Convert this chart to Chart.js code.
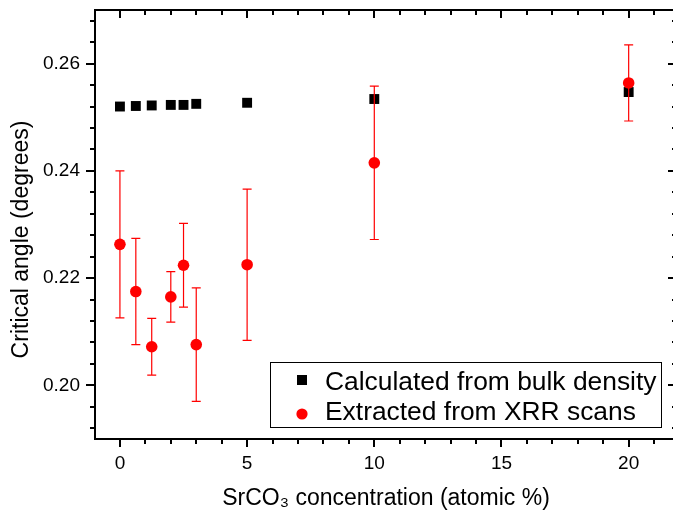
<!DOCTYPE html>
<html>
<head>
<meta charset="utf-8">
<script src="https://cdn.jsdelivr.net/npm/chart.js@4.4.1/dist/chart.umd.min.js"></script>
<style>
html,body{margin:0;padding:0;overflow:hidden;background:#fff}
#wrap{position:relative;width:690px;height:513px}
</style>
</head>
<body>
<div id="wrap"><canvas id="c" width="690" height="513" style="width:690px;height:513px"></canvas></div>
<script>
// ---- data ----
const concentrations = [0, 0.625, 1.25, 2, 2.5, 3, 5, 10, 20];
const bulkAngle      = [0.2520, 0.2521, 0.2522, 0.2523, 0.2523, 0.2525, 0.2527, 0.2534, 0.2547];
const xrrAngle       = [0.2263, 0.2175, 0.2072, 0.2165, 0.2224, 0.2076, 0.2225, 0.2415, 0.2564];
const xrrError       = [0.0137, 0.0099, 0.0053, 0.0047, 0.0078, 0.0106, 0.0141, 0.0143, 0.0071];
const xTickLabels    = [0, 5, 10, 15, 20];
const yTickLabels    = [0.20, 0.22, 0.24, 0.26];
const seriesLabels   = ['Calculated from bulk density', 'Extracted from XRR scans'];
const xTitle = 'SrCO\u2083 concentration (atomic %)';
const yTitle = 'Critical angle (degrees)';

const FONT = '"Liberation Sans", Arial, sans-serif';

const framePlugin = {
  id: 'frameTicks',
  beforeDatasetsDraw(chart) {
    const {ctx, chartArea: a, scales: {x, y}} = chart;
    ctx.save();
    ctx.strokeStyle = '#000';
    ctx.lineWidth = 2;
    ctx.strokeRect(a.left, a.top, a.right - a.left, a.bottom - a.top);
    ctx.beginPath();
    // x ticks: minor every 1, major at labels
    for (let v = Math.ceil(x.min); v <= Math.floor(x.max); v++) {
      if (v <= x.min || v >= x.max) continue;
      const px = Math.round(x.getPixelForValue(v));
      const major = xTickLabels.includes(v);
      const len = major ? 8 : 5;
      ctx.moveTo(px, a.bottom); ctx.lineTo(px, a.bottom + len);
      ctx.moveTo(px, a.top); ctx.lineTo(px, a.top + len);
    }
    // y ticks: minor every 0.004
    for (let i = 0; i < 100; i++) {
      const v = Math.round((0.192 + i * 0.004) * 1000) / 1000;
      if (v >= y.max) break;
      const py = Math.round(y.getPixelForValue(v));
      const major = yTickLabels.some(t => Math.abs(t - v) < 1e-6);
      const len = major ? 9 : 5;
      ctx.moveTo(a.left - len, py); ctx.lineTo(a.left, py);
      ctx.moveTo(a.right - len, py); ctx.lineTo(a.right, py);
    }
    ctx.stroke();
    ctx.restore();
  }
};

const errorBarPlugin = {
  id: 'errorBars',
  beforeDatasetDraw(chart, args) {
    if (args.index !== 1) return;
    const {ctx, scales: {x, y}} = chart;
    ctx.save();
    ctx.strokeStyle = '#ff0000';
    ctx.lineWidth = 1.2;
    ctx.beginPath();
    concentrations.forEach((c, i) => {
      const px = x.getPixelForValue(c);
      const pt = y.getPixelForValue(xrrAngle[i] + xrrError[i]);
      const pb = y.getPixelForValue(xrrAngle[i] - xrrError[i]);
      ctx.moveTo(px, pt); ctx.lineTo(px, pb);
      ctx.moveTo(px - 4.5, pt); ctx.lineTo(px + 4.5, pt);
      ctx.moveTo(px - 4.5, pb); ctx.lineTo(px + 4.5, pb);
    });
    ctx.stroke();
    ctx.restore();
  }
};

const yTitlePlugin = {
  id: 'yTitle',
  afterDraw(chart) {
    const ctx = chart.ctx;
    ctx.save();
    ctx.translate(21.8, 239.5);
    ctx.rotate(-Math.PI / 2);
    ctx.fillStyle = '#000';
    ctx.font = '23px ' + FONT;
    ctx.textAlign = 'center';
    ctx.textBaseline = 'middle';
    ctx.fillText(yTitle, 0, 0);
    ctx.restore();
  }
};

const legendPlugin = {
  id: 'legendBox',
  afterDraw(chart) {
    const ctx = chart.ctx;
    const ds = chart.data.datasets;
    ctx.save();
    ctx.fillStyle = '#fff';
    ctx.fillRect(270, 362, 391, 65);
    ctx.strokeStyle = '#000';
    ctx.lineWidth = 1;
    ctx.strokeRect(270.5, 362.5, 391, 65);
    // markers
    ctx.fillStyle = ds[0].backgroundColor;
    ctx.fillRect(297, 375, 10, 10);
    ctx.fillStyle = ds[1].backgroundColor;
    ctx.beginPath(); ctx.arc(302, 414, 5.6, 0, Math.PI * 2); ctx.fill();
    ctx.fillStyle = '#000';
    ctx.font = '26.4px ' + FONT;
    ctx.textBaseline = 'alphabetic';
    ctx.textAlign = 'left';
    ctx.fillText(ds[0].label, 325, 390);
    ctx.fillText(ds[1].label, 325, 420);
    ctx.restore();
  }
};

new Chart(document.getElementById('c'), {
  type: 'scatter',
  data: {
    datasets: [
      {
        label: seriesLabels[0],
        data: concentrations.map((c, i) => ({x: c, y: bulkAngle[i]})),
        pointStyle: 'rect',
        pointRadius: 7,
        borderWidth: 0,
        backgroundColor: '#000000',
        borderColor: '#000000',
        order: 2
      },
      {
        label: seriesLabels[1],
        data: concentrations.map((c, i) => ({x: c, y: xrrAngle[i]})),
        pointStyle: 'circle',
        pointRadius: 5.8,
        borderWidth: 0,
        backgroundColor: '#ff0000',
        borderColor: '#ff0000',
        order: 1
      }
    ]
  },
  options: {
    responsive: false,
    devicePixelRatio: 1,
    animation: false,
    layout: {padding: {left: 0, top: 10, right: 13, bottom: 0}},
    plugins: {legend: {display: false}, tooltip: {enabled: false}},
    scales: {
      x: {
        type: 'linear', position: 'bottom', min: -0.98, max: 21.9,
        grid: {display: false, drawTicks: false},
        border: {display: false},
        afterBuildTicks: s => { s.ticks = xTickLabels.map(v => ({value: v})); },
        afterFit: s => { s.height = 74; s.paddingLeft = 0; s.paddingRight = 0; },
        ticks: {color: '#000', font: {family: FONT, size: 19}, padding: 13, maxRotation: 0, autoSkip: false,
                callback: v => String(v)},
        title: {display: true, text: xTitle, color: '#000', font: {family: FONT, size: 23},
                padding: {top: 0, bottom: 1}}
      },
      y: {
        type: 'linear', position: 'left', min: 0.19, max: 0.27,
        grid: {display: false, drawTicks: false},
        border: {display: false},
        afterBuildTicks: s => { s.ticks = yTickLabels.map(v => ({value: v})); },
        afterFit: s => { s.width = 95; s.paddingTop = 0; s.paddingBottom = 0; },
        ticks: {color: '#000', font: {family: FONT, size: 19}, padding: 15, autoSkip: false,
                callback: v => Number(v).toFixed(2)},
        title: {display: false, text: yTitle}
      }
    }
  },
  plugins: [framePlugin, errorBarPlugin, yTitlePlugin, legendPlugin]
});
</script>
</body>
</html>
